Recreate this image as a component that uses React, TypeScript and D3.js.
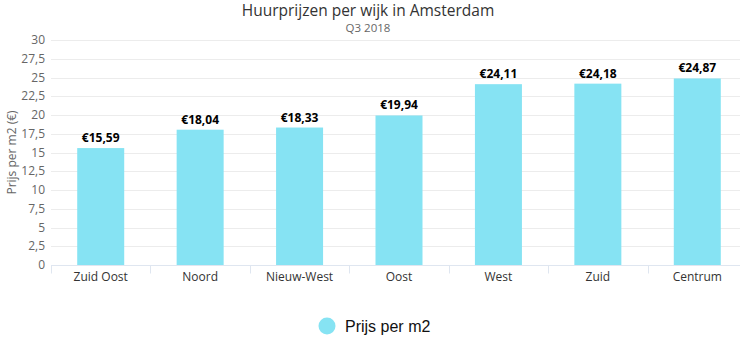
import React, { useRef, useEffect } from "react";
import * as d3 from "d3";

const categories = ["Zuid Oost", "Noord", "Nieuw-West", "Oost", "West", "Zuid", "Centrum"];
const prices = [15.59, 18.04, 18.33, 19.94, 24.11, 24.18, 24.87];
const yTicks = [0, 2.5, 5, 7.5, 10, 12.5, 15, 17.5, 20, 22.5, 25, 27.5, 30];

const width = 740;
const height = 361;
const margin = { top: 40, left: 51, bottom: 96 };
const plotWidth = 696;
const barColor = "#86E3F3";
const font = "'Open Sans', sans-serif";

const fmt = (v: number) => String(v).replace(".", ",");

const App: React.FC = () => {
  const ref = useRef<SVGSVGElement | null>(null);

  useEffect(() => {
    const svg = d3.select(ref.current);
    svg.selectAll("*").remove();

    const x = d3
      .scaleBand<string>()
      .domain(categories)
      .range([margin.left, margin.left + plotWidth])
      .paddingInner(0)
      .paddingOuter(0);

    const y = d3
      .scaleLinear()
      .domain([0, 30])
      .range([height - margin.bottom, margin.top]);

    // titles
    svg
      .append("text")
      .attr("x", 368)
      .attr("y", 16)
      .attr("text-anchor", "middle")
      .attr("font-family", font)
      .attr("font-size", 15.5)
      .attr("fill", "#333")
      .text("Huurprijzen per wijk in Amsterdam");

    svg
      .append("text")
      .attr("x", 368)
      .attr("y", 32)
      .attr("text-anchor", "middle")
      .attr("font-family", font)
      .attr("font-size", 11.5)
      .attr("fill", "#666")
      .text("Q3 2018");

    // grid
    svg
      .append("g")
      .selectAll("line")
      .data(yTicks.slice(1))
      .join("line")
      .attr("x1", margin.left)
      .attr("x2", width)
      .attr("y1", (d) => Math.round(y(d)) + 0.5)
      .attr("y2", (d) => Math.round(y(d)) + 0.5)
      .attr("stroke", "#ececec");

    // y labels
    svg
      .append("g")
      .selectAll("text")
      .data(yTicks)
      .join("text")
      .attr("x", 45)
      .attr("y", (d) => y(d) + 4)
      .attr("text-anchor", "end")
      .attr("font-family", font)
      .attr("font-size", 12)
      .attr("fill", "#666")
      .text((d) => fmt(d));

    svg
      .append("text")
      .attr("transform", `translate(16,${(y(0) + y(30)) / 2}) rotate(-90)`)
      .attr("text-anchor", "middle")
      .attr("font-family", font)
      .attr("font-size", 12)
      .attr("fill", "#666")
      .text("Prijs per m2 (€)");

    // bars
    const barW = 47;
    svg
      .append("g")
      .selectAll("rect")
      .data(prices)
      .join("rect")
      .attr("x", (_, i) => x(categories[i])! + x.bandwidth() / 2 - barW / 2)
      .attr("y", (d) => y(d))
      .attr("width", barW)
      .attr("height", (d) => y(0) - y(d))
      .attr("fill", barColor);

    svg
      .append("g")
      .selectAll("text")
      .data(prices)
      .join("text")
      .attr("x", (_, i) => x(categories[i])! + x.bandwidth() / 2)
      .attr("y", (d) => y(d) - 6)
      .attr("text-anchor", "middle")
      .attr("font-family", font)
      .attr("font-size", 12)
      .attr("font-weight", "bold")
      .attr("fill", "#000")
      .text((d) => "€" + d.toFixed(2).replace(".", ","));

    // x axis
    const y0 = Math.round(y(0)) + 0.5;
    svg
      .append("line")
      .attr("x1", margin.left)
      .attr("x2", width)
      .attr("y1", y0)
      .attr("y2", y0)
      .attr("stroke", "#dfe6f0");

    svg
      .append("g")
      .selectAll("line")
      .data(categories)
      .join("line")
      .attr("x1", (d) => Math.round(x(d)!) + 0.5)
      .attr("x2", (d) => Math.round(x(d)!) + 0.5)
      .attr("y1", y0)
      .attr("y2", y0 + 8)
      .attr("stroke", "#dfe6f0");

    svg
      .append("g")
      .selectAll("text")
      .data(categories)
      .join("text")
      .attr("x", (d) => x(d)! + x.bandwidth() / 2)
      .attr("y", y0 + 15)
      .attr("text-anchor", "middle")
      .attr("font-family", font)
      .attr("font-size", 12)
      .attr("fill", "#333")
      .text((d) => d);

    // legend
    svg
      .append("circle")
      .attr("cx", 327)
      .attr("cy", 326)
      .attr("r", 8.5)
      .attr("fill", barColor);

    svg
      .append("text")
      .attr("x", 345)
      .attr("y", 332)
      .attr("font-family", "'Liberation Sans', Arial, sans-serif")
      .attr("font-size", 16)
      .attr("fill", "#111")
      .text("Prijs per m2");
  }, []);

  return (
    <svg
      ref={ref}
      width={width}
      height={height}
      style={{ position: "absolute", left: 0, top: 0, background: "#fff" }}
    ></svg>
  );
};

export default App;
